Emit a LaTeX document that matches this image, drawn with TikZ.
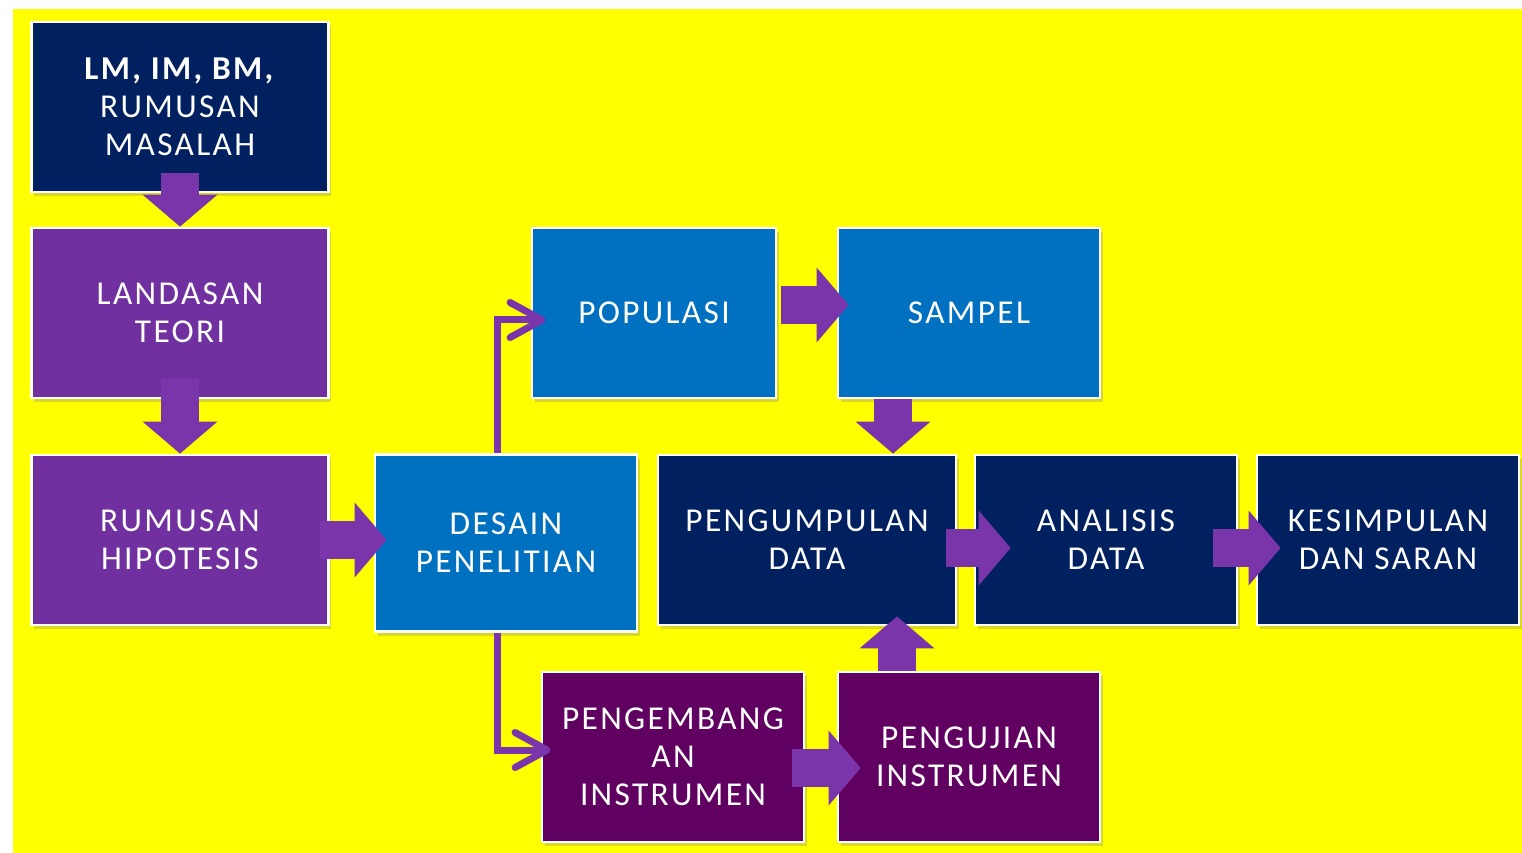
\documentclass[tikz,border=0pt]{standalone}
\usepackage{fontspec}
\setmainfont{Carlito}[LetterSpace=7]
\usetikzlibrary{positioning,calc,arrows.meta,shadows}
\definecolor{kuning}{RGB}{255,255,0}
\definecolor{navy}{HTML}{002060}
\definecolor{ungu}{HTML}{7030A0}
\definecolor{biru}{HTML}{0070C0}
\definecolor{plum}{HTML}{600060}
\definecolor{panah}{HTML}{7A35AA}
\tikzset{
  box/.style={draw=white, line width=1.6pt, text=white, align=center, inner sep=0pt,
    minimum width=52.4mm, minimum height=34mm, font=\fontsize{19}{21.6}\selectfont,
    drop shadow={shadow xshift=.5mm, shadow yshift=-.8mm, opacity=.3}},
  navybox/.style={box, fill=navy},
  ungubox/.style={box, fill=ungu, minimum width=59.4mm},
  birubox/.style={box, fill=biru},
  plumbox/.style={box, fill=plum},
  blokpanah/.style={draw=panah, line width=7.6mm, -{Triangle[length=6.4mm, width=15mm, line width=0pt 0]}},
  garispanah/.style={draw=panah, line width=1.4mm, -{Straight Barb[length=6.4mm, width=7mm, round]}}
}
\begin{document}
\begin{tikzpicture}[x=0.2mm, y=-0.2mm]
\useasboundingbox (0,0) rectangle (1522,853);
\fill[kuning] (13,9) rectangle (1522,853);

\node[navybox, minimum width=59.4mm] (masalah) at (180,107) {\textbf{LM, IM, BM,}\\RUMUSAN\\MASALAH};
\node[ungubox] (teori) at (180,313) {LANDASAN\\TEORI};
\node[ungubox] (hipotesis) at (180,540) {RUMUSAN\\HIPOTESIS};
\node[birubox, minimum height=35.4mm] (desain) at (506,543) {DESAIN\\PENELITIAN};
\node[birubox, minimum width=48.8mm] (populasi) at (654,313) {POPULASI};
\node[birubox] (sampel) at (969,313) {SAMPEL};
\node[navybox, minimum width=59.6mm] (kumpul) at (807,540) {PENGUMPULAN\\DATA};
\node[navybox] (analisis) at (1106,540) {ANALISIS\\DATA};
\node[navybox] (simpulan) at (1388,540) {KESIMPULAN\\DAN SARAN};
\node[plumbox] (kembang) at (673,757) {PENGEMBANG\\AN\\INSTRUMEN};
\node[plumbox] (uji) at (969,757) {PENGUJIAN\\INSTRUMEN};

\draw[blokpanah] ($(masalah.south)+(0,-20)$) -- (teori.north);
\draw[blokpanah] ($(teori.south)+(0,-20)$) -- (hipotesis.north);
\draw[blokpanah] ($(hipotesis.east)+(-10,0)$) -- ($(hipotesis.east -| desain.west)+(13,0)$);
\draw[blokpanah] ($(populasi.east)+(4,-8)$) -- ($(populasi.east -| sampel.west)+(12,-8)$);
\draw[blokpanah] ($(sampel.south)+(-76,0)$) -- ($(sampel.south |- kumpul.north)+(-76,0)$);
\draw[blokpanah] ($(kumpul.east)+(-11,8)$) -- ($(kumpul.east -| analisis.west)+(37,8)$);
\draw[blokpanah] ($(analisis.east)+(-25,8)$) -- ($(analisis.east -| simpulan.west)+(25,8)$);
\draw[blokpanah] ($(kembang.east)+(-13,11)$) -- ($(kembang.east -| uji.west)+(24,11)$);
\draw[blokpanah] ($(uji.north)+(-72,0)$) -- ($(uji.north |- kumpul.south)+(-72,-10)$);

\draw[garispanah] ($(desain.north)+(-9,0)$) |- ($(populasi.west)+(15,7)$);
\draw[garispanah] ($(desain.south)+(-9,0)$) |- ($(kembang.west)+(10,-7)$);
\end{tikzpicture}
\end{document}
